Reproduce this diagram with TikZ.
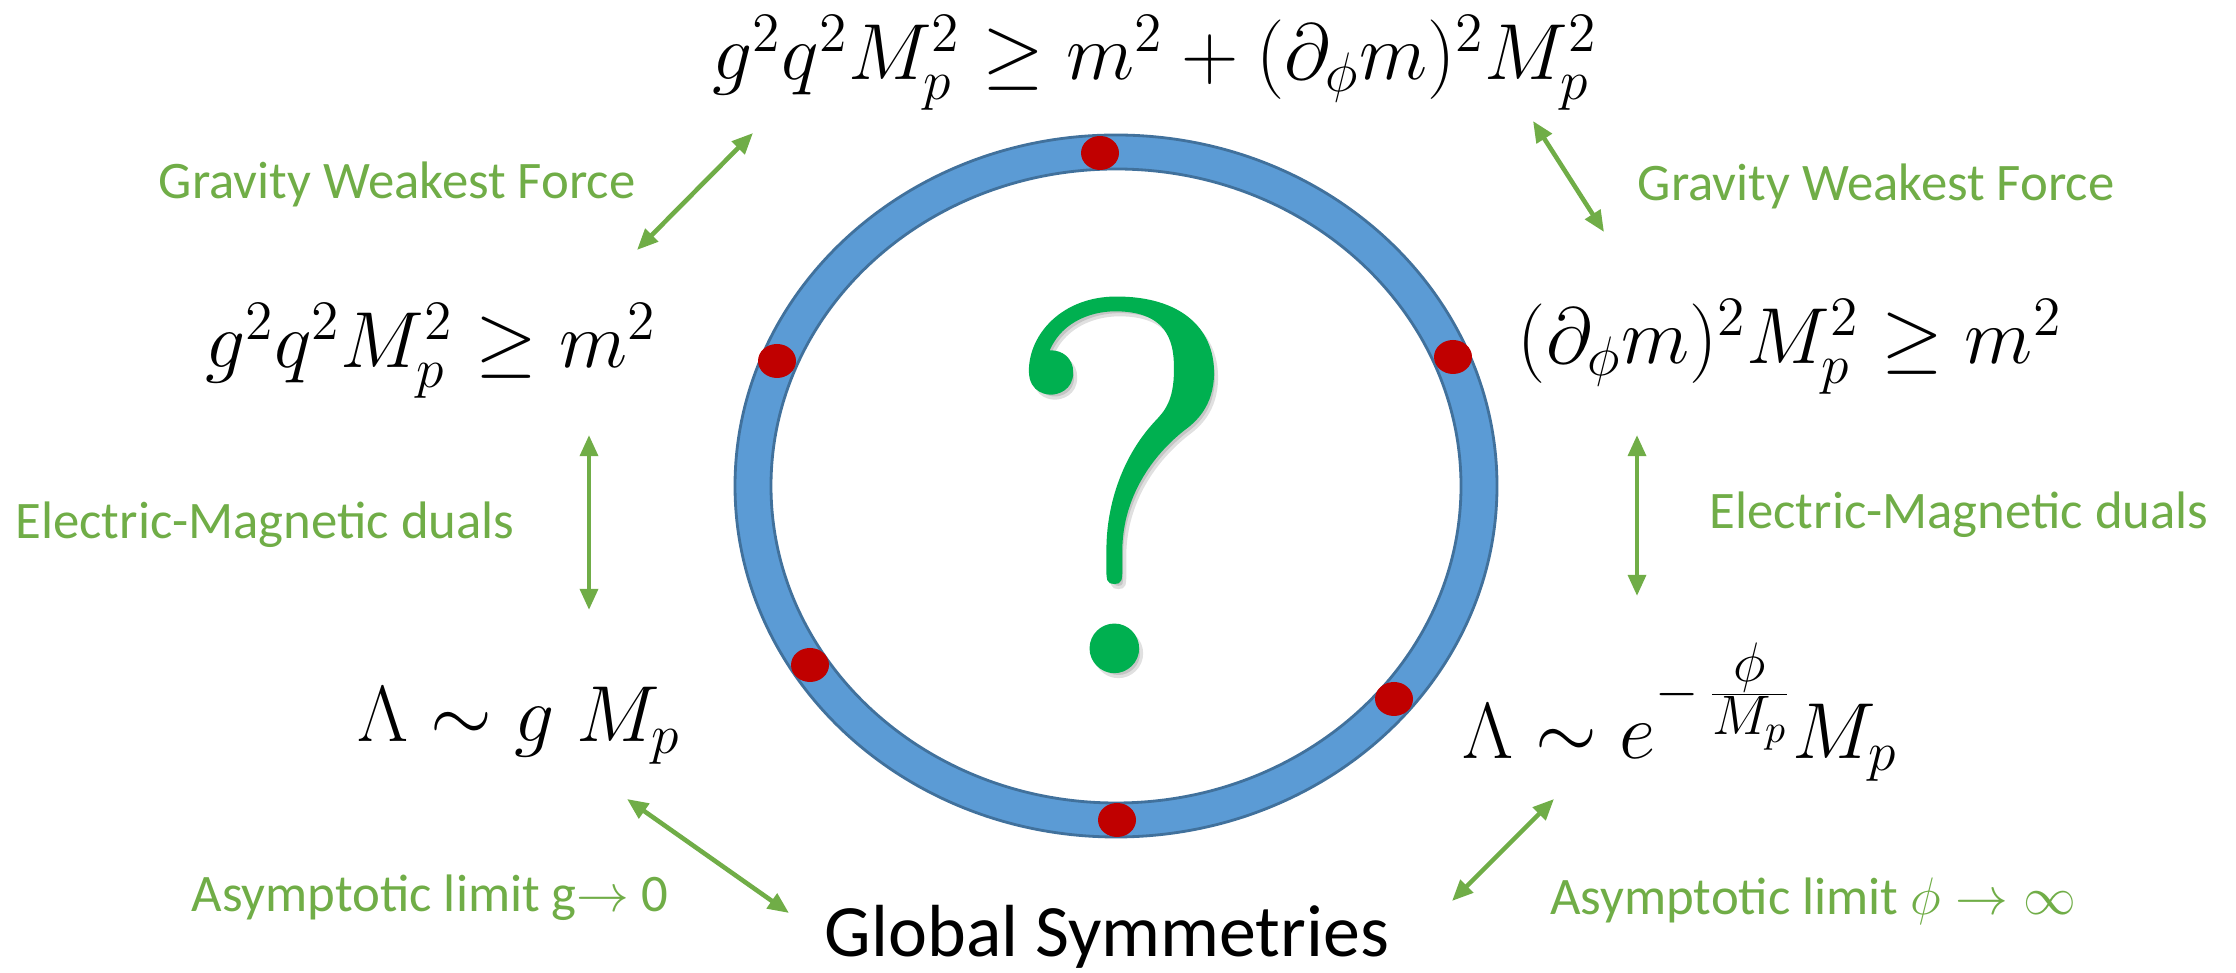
\RequirePackage{fix-cm}
\documentclass[tikz,border=0pt]{standalone}
\usepackage[no-math]{fontspec}
\newfontfamily\labelfont{Carlito}
\newfontfamily\qfont[FakeBold=1.2]{Latin Modern Roman}
\usetikzlibrary{arrows.meta}

\definecolor{ringblue}{HTML}{5B9BD5}
\definecolor{ringedge}{HTML}{41719C}
\definecolor{dotred}{HTML}{C00000}
\definecolor{qgreen}{HTML}{00B050}
\definecolor{taggreen}{HTML}{70AD47}

\tikzset{
	formula/.style={font=\fontsize{22.6}{27}\selectfont, inner sep=0pt, anchor=base},
	tag/.style={text=taggreen, font=\labelfont\fontsize{15}{18}\selectfont, inner sep=0pt},
	dual/.style={draw=taggreen, line width=1.3pt,
		{Triangle[length=6pt,width=5pt]}-{Triangle[length=6pt,width=5pt]}},
}

\begin{document}
\begin{tikzpicture}[x=0.01cm,y=0.01cm]
				\useasboundingbox (0,0) rectangle (2236,973);

				\coordinate (c) at (1116,487);

				\coordinate (1) at (1100,820);
				\coordinate (2) at (777,612);
				\coordinate (3) at (1453,616);
				\coordinate (4) at (810,308);
				\coordinate (5) at (1394,274);
				\coordinate (6) at (1117,153);

				% ring
				\fill[ringblue, even odd rule] (c) ellipse [x radius=381, y radius=351]
					(c) ellipse [x radius=345, y radius=317];
				\draw[ringedge, line width=0.8pt] (c) ellipse [x radius=381, y radius=351];
				\draw[ringedge, line width=0.8pt] (c) ellipse [x radius=345, y radius=317];

				\foreach \i in {1, ..., 6}{
						\fill[dotred] (\i) ellipse [x radius=19, y radius=17];
					}

				% question mark and its shadow
				\node[text=black, opacity=0.12, anchor=base, font=\qfont\fontsize{150}{150}\selectfont] at (1126,298) {?};
				\node (q) [text=qgreen, anchor=base, font=\qfont\fontsize{150}{150}\selectfont] at (1122,303) {?};

				% formulas
				\node[formula] (top) at (1155,893) {$g^2q^2M_p^2 \geq m^2 + (\partial_\phi m)^2 M_p^2$};
				\node[formula] (wgc) at (431,605) {$g^2q^2M_p^2 \geq m^2$};
				\node[formula] (swgc) at (1790,609) {$(\partial_\phi m)^2 M_p^2 \geq m^2$};
				\node[formula] (cut) at (519,231) {$\Lambda \sim g\;M_p$};
				\node[formula] (cutphi) at (1680,214) {$\Lambda \sim e^{-\,\frac{\scriptstyle\phi}{\scriptstyle M_p}} M_p$};
				\node (glob) [font=\labelfont\fontsize{21}{25}\selectfont, inner sep=0pt] at (1107,36) {Global Symmetries};

				% labels
				\node[tag] (gwf1) at (397,789) {Gravity Weakest Force};
				\node[tag] (gwf2) at (1876,787) {Gravity Weakest Force};
				\node[tag] (emd1) at (265,448) {Electric-Magnetic duals};
				\node[tag] (emd2) at (1959,458) {Electric-Magnetic duals};
				\node[tag] (lim1) at (430,75) {Asymptotic limit g$\rightarrow$ 0};
				\node[tag] (lim2) at (1813,72) {Asymptotic limit $\phi\rightarrow\infty$};

				% arrow ends
				\coordinate (tl1) at (637,723);
				\coordinate (tl2) at (753,840);
				\coordinate (tr1) at (1533,852);
				\coordinate (tr2) at (1604,741);
				\coordinate (ml1) at (589,538);
				\coordinate (ml2) at (589,363);
				\coordinate (mr1) at (1637,538);
				\coordinate (mr2) at (1637,377);
				\coordinate (bl1) at (627,174);
				\coordinate (bl2) at (789,60);
				\coordinate (br1) at (1554,174);
				\coordinate (br2) at (1452,72);

				\draw[dual] (tl1) -- (tl2);
				\draw[dual] (tr1) -- (tr2);
				\draw[dual] (ml1) -- (ml2);
				\draw[dual] (mr1) -- (mr2);
				\draw[dual] (bl1) -- (bl2);
				\draw[dual] (br1) -- (br2);
			\end{tikzpicture}
\end{document}
